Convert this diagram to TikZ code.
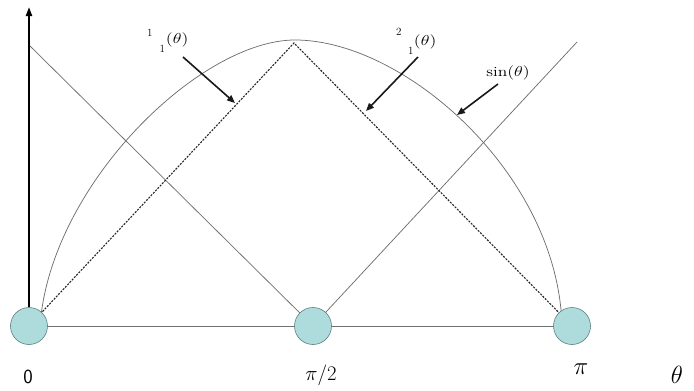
\documentclass[tikz,border=0pt]{standalone}
\usepackage{fontspec}
\usepackage{graphicx}
\usetikzlibrary{arrows.meta}
\pgfdeclarelayer{bg}
\pgfsetlayers{bg,main}
\definecolor{dotfill}{HTML}{AEDCDC}
\definecolor{dotedge}{HTML}{5E7F7F}
\definecolor{guidegray}{HTML}{707070}
\tikzset{
  dot/.style={circle, draw=dotedge, fill=dotfill, line width=0.6pt, minimum size=37pt, inner sep=0pt},
  guide/.style={draw=guidegray, line width=0.75pt},
  tri/.style={draw=black!85, line width=1.1pt, dash pattern=on 2pt off 1.3pt},
  pointer/.style={draw=black!90, line width=1.6pt, -{Triangle[length=8pt,width=6.5pt]}},
  axisline/.style={draw=black, line width=2pt, -{Triangle[length=9pt,width=6pt]}},
  lab/.style={inner sep=0pt, anchor=base west},
  tick/.style={inner sep=0pt}
}
\begin{document}
\begin{tikzpicture}[x=1pt,y=-1pt]
\useasboundingbox (0,0) rectangle (694,391);
% points on the axis
\node[dot] (c0) at (29,326) {};
\node[dot] (c1) at (313,326) {};
\node[dot] (c2) at (572,326) {};
\coordinate (apex) at (294,43);
\coordinate (ytop) at (30,46);
\coordinate (rtop) at (577,42);
\coordinate (axtop) at (29,7);
\coordinate (arcL) at (40,326);
\coordinate (arcTop) at (295,40);
\coordinate (arcR) at (562,326);
\begin{pgfonlayer}{bg}
\draw[guide] (c0.center) -- (c2.center);
\draw[guide] (ytop) -- (c1.center);
\draw[guide] (c1.center) -- (rtop);
\draw[guide] (arcL) .. controls (50,185) and (200,40) .. (arcTop) .. controls (405,40) and (558,175) .. (arcR);
\draw[tri] (c0.center) -- (apex) -- (c2.center);
\end{pgfonlayer}
\draw[axisline] (c0.north) -- (axtop);
% pointers
\coordinate (p1s) at (183,57);
\coordinate (p1e) at (235,103);
\coordinate (p2s) at (418,57);
\coordinate (p2e) at (366,111);
\coordinate (p3s) at (498,84);
\coordinate (p3e) at (457,115);
\draw[pointer] (p1s) -- (p1e);
\draw[pointer] (p2s) -- (p2e);
\draw[pointer] (p3s) -- (p3e);
% labels
\node[lab] (lab1) at (147,43) {\raisebox{7pt}{\fontsize{11}{11}\selectfont 1}\hspace{7pt}\raisebox{-9pt}{\fontsize{11}{11}\selectfont 1}\hspace{1pt}\scalebox{1.25}[1]{\fontsize{14}{14}\selectfont$(\theta)$}};
\node[lab] (lab2) at (396,45) {\raisebox{9.5pt}{\fontsize{11}{11}\selectfont 2}\hspace{6.5pt}\raisebox{-9pt}{\fontsize{11}{11}\selectfont 1}\hspace{0.5pt}\scalebox{1.25}[1]{\fontsize{14}{14}\selectfont$(\theta)$}};
\node[tick] (lab3) at (508,73) {\scalebox{1.25}[1]{\fontsize{14}{14}\selectfont sin$(\theta)$}};
\node[tick] (t0) at (28,377) {\fontsize{20}{20}\selectfont\sffamily 0};
\node[tick] (t1) at (321,375) {\fontsize{22}{22}\selectfont$\pi/2$};
\node[tick] (t2) at (581,369) {\fontsize{30}{30}\selectfont$\pi$};
\node[tick] (t3) at (677,375) {\fontsize{30}{30}\selectfont$\theta$};
\end{tikzpicture}
\end{document}
